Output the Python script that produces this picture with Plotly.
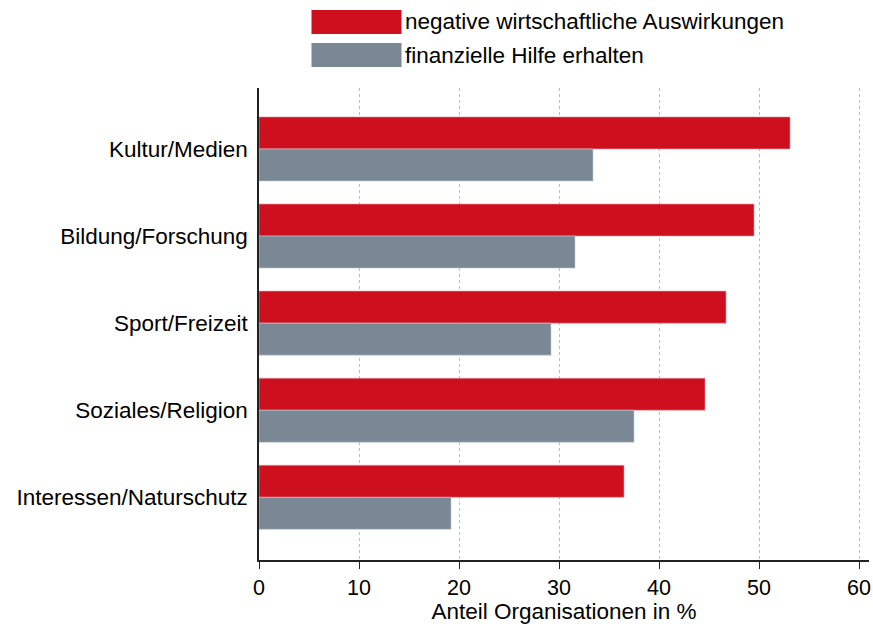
import plotly.graph_objects as go

categories = [
    "Kultur/Medien",
    "Bildung/Forschung",
    "Sport/Freizeit",
    "Soziales/Religion",
    "Interessen/Naturschutz",
]
negative_effects = [53.1, 49.5, 46.7, 44.6, 36.5]
financial_help = [33.4, 31.6, 29.2, 37.5, 19.2]
x_ticks = [0, 10, 20, 30, 40, 50, 60]

RED = "#cd0f1e"
GRAY = "#7a8896"
FONT = "Liberation Sans, Arial, Helvetica, sans-serif"
TEXT_SIZE = 22.5

W, H = 873, 624
L, R, T, B = 259, 4, 88, 64
PW, PH = W - L - R, H - T - B


def px_x(x):
    return (x - L) / PW


def px_y(y):
    return (H - B - y) / PH


fig = go.Figure()
fig.add_trace(go.Bar(y=categories, x=negative_effects, orientation="h",
                     name="negative wirtschaftliche Auswirkungen",
                     marker=dict(color=RED, line=dict(color="#e8a0a6", width=0.6))))
fig.add_trace(go.Bar(y=categories, x=financial_help, orientation="h",
                     name="finanzielle Hilfe erhalten",
                     marker=dict(color=GRAY, line=dict(color="#c4ccd4", width=0.6))))

# legend drawn by hand to get the wide colour keys
legend_items = [("negative wirtschaftliche Auswirkungen", RED, 10, 34),
                ("finanzielle Hilfe erhalten", GRAY, 43, 67)]
for label, color, y0, y1 in legend_items:
    fig.add_shape(type="rect", xref="paper", yref="paper",
                  x0=px_x(311.5), x1=px_x(401.5), y0=px_y(y1), y1=px_y(y0),
                  fillcolor=color, line=dict(width=0))
    fig.add_annotation(xref="paper", yref="paper", x=px_x(403), y=px_y((y0 + y1) / 2),
                       text=label, showarrow=False, xanchor="left", yanchor="middle",
                       font=dict(size=TEXT_SIZE, color="#000000"))

fig.update_layout(
    width=W,
    height=H,
    barmode="group",
    bargap=0.264,
    bargroupgap=0,
    showlegend=False,
    paper_bgcolor="white",
    plot_bgcolor="white",
    font=dict(family=FONT, size=TEXT_SIZE, color="#000000"),
    margin=dict(l=L, r=R, t=T, b=B, autoexpand=False),
)
fig.update_xaxes(
    range=[0, 61],
    tickvals=x_ticks,
    tickfont=dict(size=21.5),
    showgrid=True,
    gridcolor="#bdbdbd",
    griddash="dot",
    gridwidth=1,
    zeroline=False,
    showline=True,
    linecolor="#222222",
    linewidth=1.5,
    ticks="outside",
    ticklen=7,
    tickcolor="#222222",
    title=dict(text="Anteil Organisationen in %", standoff=4, font=dict(size=TEXT_SIZE)),
)
fig.update_yaxes(
    range=[4.72, -0.70],
    showgrid=False,
    zeroline=False,
    showline=True,
    linecolor="#222222",
    linewidth=1.5,
    ticks="",
    ticklabelstandoff=5,
)

# drop the page's default body margin so the figure sits at the window corner
fig.write_html("out.html", config={"displayModeBar": False},
               post_script="document.body.style.margin = '0';")
